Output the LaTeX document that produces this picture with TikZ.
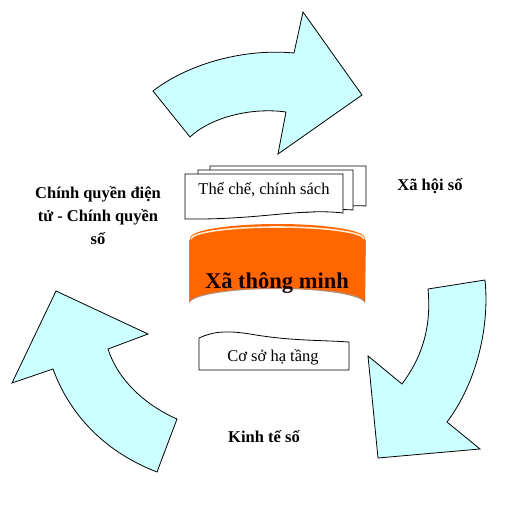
\documentclass[tikz,border=0pt]{standalone}
\usepackage{fontspec}
\setmainfont{Liberation Serif}
\begin{document}
\begin{tikzpicture}[x=1pt,y=-1pt,
  bigarrow/.style={draw=black,line width=0.8pt,fill=arrowcyan,line join=miter},
  sheet/.style={draw=black,line width=0.8pt,fill=white},
  lbl/.style={font=\fontsize{16.5}{23}\selectfont\bfseries,align=center,inner sep=0pt},
  doctext/.style={font=\fontsize{16.5}{20}\selectfont,inner sep=0pt}]
\definecolor{arrowcyan}{HTML}{CCFFFF}
\definecolor{cylorange}{HTML}{FF6600}
\definecolor{cylrim}{HTML}{FFE8CC}
\definecolor{cylshadow}{HTML}{B09080}
\useasboundingbox (0,0) rectangle (520,519);
\fill[white] (0,0) rectangle (520,519);
% top arrow
\draw[bigarrow] (153,91) .. controls (185,66) and (240,48) .. (294,53)
  -- (303,12) -- (362,95) -- (278,154) -- (286,112)
  .. controls (250,107) and (210,118) .. (190,137) -- cycle;
% right arrow
\draw[bigarrow] (428,289) -- (485,280)
  .. controls (490,330) and (475,385) .. (447,422)
  -- (480,449) -- (378,458) -- (368,356) -- (402,384)
  .. controls (420,360) and (432,330) .. (428,289) -- cycle;
% left arrow
\draw[bigarrow] (157,472) -- (177,419)
  .. controls (145,405) and (118,380) .. (108,349)
  -- (148,334) -- (56,291) -- (12,383) -- (53,369)
  .. controls (68,410) and (100,450) .. (157,472) -- cycle;
% document stack
\draw[sheet] (210,166) -- (366,166) -- (366,206)
  .. controls (340,204) and (320,212) .. (300,208) -- (210,208) -- cycle;
\draw[sheet] (198,170) -- (353,170) -- (353,210)
  .. controls (330,208) and (310,214) .. (290,212) -- (198,212) -- cycle;
\draw[sheet] (185,174) -- (343,174) -- (343,213)
  .. controls (300,208) and (260,220) .. (185,219) -- cycle;
\node[doctext] (policy) at (264,190) {Thể chế, chính sách};
% cylinder
\fill[cylshadow] (189,240) -- (189,304) arc[start angle=180,end angle=360,x radius=88,y radius=15] -- (366,240) -- cycle;
\fill[cylorange] (190,238) -- (190,302) arc[start angle=180,end angle=360,x radius=87.5,y radius=14] -- (365,238) -- cycle;
\fill[cylorange] (277.5,238) ellipse[x radius=87.5,y radius=14];
\draw[cylrim,line width=1.6pt] (191,239) arc[start angle=180,end angle=360,x radius=86.5,y radius=12];
\node[font=\fontsize{22.5}{26}\selectfont\bfseries,text=black!90!red,inner sep=0pt] (smart) at (277,283) {Xã thông minh};
% infrastructure
\draw[sheet] (199,338) .. controls (212,332) and (225,330) .. (250,334)
  .. controls (290,341) and (320,340) .. (349,342) -- (349,370) -- (199,370) -- cycle;
\node[doctext] (infra) at (273,357) {Cơ sở hạ tầng};
% labels
\node[lbl] (society) at (430,186) {Xã hội số};
\node[lbl] (gov) at (98,216) {Chính quyền điện\\tử - Chính quyền\\số};
\node[lbl] (economy) at (264,437) {Kinh tế số};
\end{tikzpicture}
\end{document}
